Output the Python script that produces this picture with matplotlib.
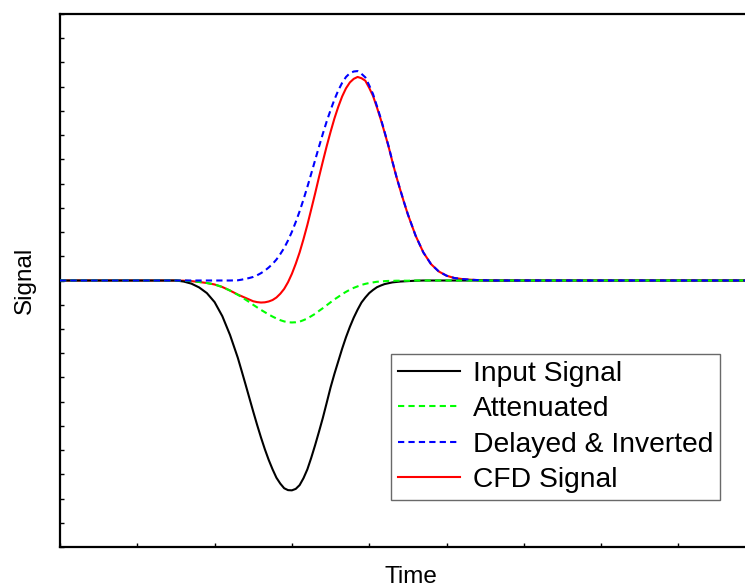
import numpy as np
import matplotlib
matplotlib.use("Agg")
import matplotlib.pyplot as plt

plt.rcParams['font.family'] = ['Liberation Sans', 'DejaVu Sans']

# time in ns, signals normalised to the input pulse amplitude
time = [0,
        12, 13, 14, 15, 16, 17, 18, 19, 20, 21, 22,
        23, 23.5, 24, 24.5, 25, 25.5, 26, 26.5, 27, 27.5,
        28, 28.5, 29, 29.5, 30, 30.5, 31, 31.5, 32, 32.5,
        33, 33.5, 34, 34.5, 35, 35.5, 36, 36.5, 37, 37.5,
        38, 38.5, 39, 39.5, 40, 40.5, 41, 41.5, 42, 42.5,
        43, 43.5, 44, 44.5, 45,
        46, 47, 48, 49, 50, 51, 52, 53, 54, 55, 56, 57, 58,
        100]

input_signal = [0,
                0, 0, 0, 0, -0.005, -0.015, -0.033, -0.060, -0.103, -0.170, -0.260,
                -0.368, -0.431, -0.495, -0.560, -0.625, -0.688, -0.748, -0.804, -0.855, -0.900,
                -0.940, -0.968, -0.990, -0.999, -1.000, -0.993, -0.975, -0.942, -0.900, -0.845,
                -0.785, -0.721, -0.655, -0.583, -0.510, -0.445, -0.385, -0.325, -0.270, -0.221,
                -0.177, -0.139, -0.105, -0.081, -0.060, -0.045, -0.032, -0.024, -0.017, -0.013,
                -0.009, -0.007, -0.005, -0.004, -0.003,
                -0.001, 0, 0, 0, 0, 0, 0, 0, 0, 0, 0, 0, 0,
                0]

attenuated = [0,
              0, 0, 0, 0, -0.001, -0.003, -0.007, -0.012, -0.019, -0.031, -0.048,
              -0.068, -0.079, -0.091, -0.103, -0.116, -0.128, -0.140, -0.151, -0.162, -0.172,
              -0.181, -0.189, -0.195, -0.199, -0.200, -0.199, -0.196, -0.189, -0.181, -0.170,
              -0.159, -0.145, -0.132, -0.118, -0.104, -0.090, -0.078, -0.065, -0.054, -0.044,
              -0.035, -0.028, -0.021, -0.016, -0.012, -0.009, -0.006, -0.005, -0.003, -0.002,
              -0.002, -0.001, -0.001, -0.001, -0.001,
              0, 0, 0, 0, 0, 0, 0, 0, 0, 0, 0, 0, 0,
              0]

delayed_inverted = [0,
                    0, 0, 0, 0, 0, 0, 0, 0, 0, 0, 0,
                    0.001, 0.004, 0.008, 0.012, 0.017, 0.025, 0.035, 0.047, 0.062, 0.079,
                    0.100, 0.126, 0.155, 0.191, 0.232, 0.279, 0.330, 0.386, 0.446, 0.509,
                    0.573, 0.637, 0.699, 0.758, 0.812, 0.862, 0.906, 0.942, 0.970, 0.988,
                    0.996, 0.998, 0.985, 0.968, 0.930, 0.888, 0.831, 0.772, 0.707, 0.641,
                    0.568, 0.498, 0.435, 0.374, 0.316,
                    0.214, 0.134, 0.078, 0.043, 0.023, 0.012, 0.007, 0.004, 0.002, 0.001, 0, 0, 0,
                    0]

cfd_signal = [0,
              0, 0, 0, 0, -0.001, -0.003, -0.007, -0.012, -0.019, -0.031, -0.048,
              -0.067, -0.075, -0.083, -0.091, -0.099, -0.103, -0.105, -0.104, -0.100, -0.093,
              -0.081, -0.063, -0.040, -0.008, 0.032, 0.080, 0.134, 0.197, 0.265, 0.339,
              0.414, 0.492, 0.567, 0.640, 0.708, 0.772, 0.828, 0.877, 0.916, 0.944,
              0.961, 0.970, 0.964, 0.952, 0.918, 0.879, 0.825, 0.767, 0.704, 0.639,
              0.566, 0.497, 0.434, 0.373, 0.315,
              0.214, 0.134, 0.078, 0.043, 0.023, 0.012, 0.007, 0.004, 0.002, 0.001, 0, 0, 0,
              0]

labels = ["Input Signal", "Attenuated", "Delayed & Inverted", "CFD Signal"]

fig = plt.figure(figsize=(7.45, 5.87), dpi=100)
# axes runs past the right edge of the figure, as in the reference
ax = fig.add_axes([60 / 745, 40 / 587, 702 / 745, 533 / 587])

h1, = ax.plot(time, input_signal, color="black", lw=1.5, zorder=3)
h2, = ax.plot(time, attenuated, color="#00ff00", lw=1.5, ls=(0, (3, 2)), zorder=4)
h3, = ax.plot(time, delayed_inverted, color="#0000ff", lw=1.5, ls=(0, (3, 2)), zorder=4)
h4, = ax.plot(time, cfd_signal, color="#ff0000", lw=1.5, zorder=2)

ax.set_xlim(0, 702 / 7.73)
ax.set_ylim(-1.27, 1.27)
ax.set_xticks(np.arange(0, 91, 10))
ax.set_yticks(np.linspace(-1.27, 1.27, 23))
ax.tick_params(direction="in", length=3, width=1, labelbottom=False, labelleft=False)
for s in ax.spines.values():
    s.set_linewidth(1.6)

ax.set_xlabel("Time", fontsize=17.5)
ax.set_ylabel("Signal", fontsize=17.5)
ax.xaxis.set_label_coords((411 - 60) / 702, -0.035)
ax.xaxis.label.set_va("top")
ax.yaxis.set_label_coords(-0.035, 0.5)

# legend box: left edge at x=391 px, top at y=354 px in the reference
leg = ax.legend([h1, h2, h3, h4], labels, loc="upper left",
                bbox_to_anchor=((391 - 60) / 702, (547 - 354) / 533),
                borderaxespad=0, fancybox=False, fontsize=20.3,
                handlelength=2.2, handletextpad=0.45, labelspacing=0.33,
                borderpad=0.25)
leg.get_frame().set_edgecolor("#444444")
leg.get_frame().set_linewidth(1.0)

fig.savefig("out.png", dpi=100)
